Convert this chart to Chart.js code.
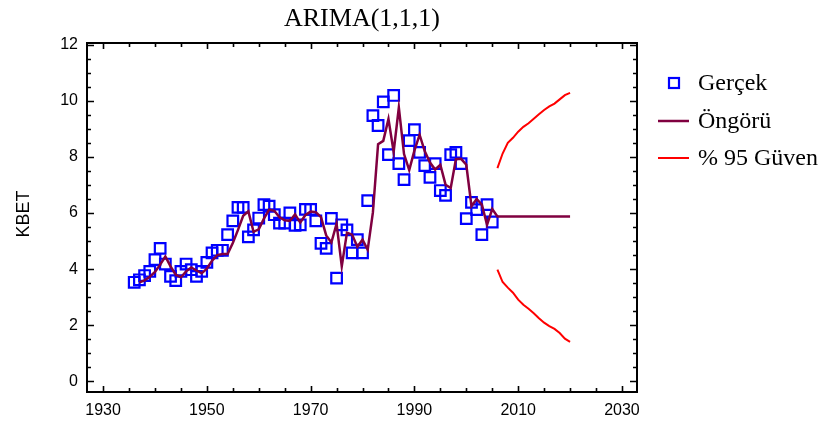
<!DOCTYPE html>
<html>
<head>
<meta charset="utf-8">
<script src="https://cdn.jsdelivr.net/npm/chart.js@4.4.0/dist/chart.umd.min.js"></script>
<style>
  body { margin: 0; background: #fff; }
  #wrap { width: 828px; height: 425px; }
</style>
</head>
<body>
<div id="wrap"><canvas id="arimaChart" width="828" height="425"></canvas></div>
<script>
const actualYears = [
  1936, 1937, 1938, 1939, 1940, 1941, 1942, 1943, 1944, 1945,
  1946, 1947, 1948, 1949, 1950, 1951, 1952, 1953, 1954, 1955,
  1956, 1957, 1958, 1959, 1960, 1961, 1962, 1963, 1964, 1965,
  1966, 1967, 1968, 1969, 1970, 1971, 1972, 1973, 1974, 1975,
  1976, 1977, 1978, 1979, 1980, 1981, 1982, 1983, 1984, 1985,
  1986, 1987, 1988, 1989, 1990, 1991, 1992, 1993, 1994, 1995,
  1996, 1997, 1998, 1999, 2000, 2001, 2002, 2003, 2004, 2005
];
const actualValues = [
  3.53, 3.62, 3.77, 3.92, 4.34, 4.74, 4.18, 3.74, 3.59, 3.92,
  4.18, 3.98, 3.74, 3.92, 4.24, 4.58, 4.67, 4.67, 5.23, 5.72,
  6.2, 6.2, 5.15, 5.4, 5.82, 6.3, 6.24, 5.94, 5.64, 5.64,
  6.0, 5.56, 5.58, 6.13, 6.13, 5.72, 4.92, 4.74, 5.81, 3.68,
  5.58, 5.4, 4.58, 5.05, 4.58, 6.44, 9.47, 9.12, 9.96, 8.08,
  10.19, 7.76, 7.19, 8.58, 8.97, 8.16, 7.69, 7.27, 7.76, 6.8,
  6.63, 8.08, 8.16, 7.76, 5.8, 6.38, 6.12, 5.23, 6.3, 5.68
];
// one-step fitted values, 1937-2005
const fittedValues = [
  3.53, 3.6, 3.73, 3.9, 4.16, 4.45, 4.1, 3.8, 3.71,
  3.92, 4.06, 3.95, 3.85, 4.02, 4.3, 4.5, 4.54, 4.54, 4.93,
  5.4, 5.9, 6.06, 5.33, 5.42, 5.8, 6.12, 6.08, 5.85, 5.74,
  5.72, 5.95, 5.66, 5.93, 6.05, 6.03, 5.85, 5.2, 4.95, 5.62,
  4.1, 5.3, 5.23, 4.8, 5.05, 4.69, 6.02, 8.45, 8.57, 9.35,
  8.18, 9.76, 8.1, 7.53, 8.22, 8.79, 8.2, 7.8, 7.55, 7.72,
  7.01, 6.89, 7.92, 7.93, 7.72, 6.24, 6.5, 6.3, 5.58, 6.14
];
const forecastYears = [2006, 2007, 2008, 2009, 2010, 2011, 2012, 2013, 2014, 2015, 2016, 2017, 2018, 2019, 2020];
const forecastValues = [5.88, 5.88, 5.88, 5.88, 5.88, 5.88, 5.88, 5.88, 5.88, 5.88, 5.88, 5.88, 5.88, 5.88, 5.88];
const upperValues = [7.6, 8.12, 8.5, 8.68, 8.9, 9.07, 9.2, 9.36, 9.52, 9.67, 9.8, 9.9, 10.05, 10.2, 10.28];
const lowerValues = [3.98, 3.54, 3.34, 3.16, 2.91, 2.73, 2.59, 2.43, 2.25, 2.09, 1.97, 1.87, 1.72, 1.52, 1.41];

const xTicks = [1930, 1950, 1970, 1990, 2010, 2030];
const yTicks = [0, 2, 4, 6, 8, 10, 12];
const legendLabels = ['Gerçek', 'Öngörü', '% 95 Güven'];

const toPts = (xs, ys) => xs.map((x, i) => ({ x: x, y: ys[i] }));
const fitYears = actualYears.slice(1).concat(forecastYears);
const fitValues = fittedValues.concat(forecastValues);

const BLUE = '#0000ff';
const MAROON = '#800040';
const RED = '#ff0000';

// Frame, inward ticks, title, axis name and legend
const framePlugin = {
  id: 'frame',
  afterDraw(chart) {
    const ctx = chart.ctx;
    const a = chart.chartArea;
    const xs = chart.scales.x, ys = chart.scales.y;
    ctx.save();
    ctx.strokeStyle = '#000';
    ctx.lineWidth = 2;
    ctx.strokeRect(a.left, a.top, a.right - a.left, a.bottom - a.top);

    ctx.lineWidth = 1.6;
    ctx.beginPath();
    for (let v = 1930; v <= 2030; v += 5) {
      const px = Math.round(xs.getPixelForValue(v)) + 0.5;
      const len = v % 20 === 10 ? 6 : 4;
      ctx.moveTo(px, a.bottom); ctx.lineTo(px, a.bottom - len);
      ctx.moveTo(px, a.top); ctx.lineTo(px, a.top + len);
    }
    for (let v = 0; v <= 12; v += 0.5) {
      const py = Math.round(ys.getPixelForValue(v)) + 0.5;
      const len = v % 2 === 0 ? 7 : 4;
      ctx.moveTo(a.left, py); ctx.lineTo(a.left + len, py);
      ctx.moveTo(a.right, py); ctx.lineTo(a.right - len, py);
    }
    ctx.stroke();

    // title
    ctx.fillStyle = '#000';
    ctx.textAlign = 'center';
    ctx.textBaseline = 'middle';
    ctx.font = '26px "Liberation Serif"';
    ctx.fillText('ARIMA(1,1,1)', (a.left + a.right) / 2, 19);

    // y axis name
    ctx.save();
    ctx.translate(24, 214);
    ctx.rotate(-Math.PI / 2);
    ctx.font = '18px "Liberation Sans"';
    ctx.fillText('KBET', 0, 0);
    ctx.restore();

    // legend
    ctx.textAlign = 'left';
    ctx.font = '24px "Liberation Serif"';
    const rows = [83, 121, 158];
    ctx.strokeStyle = BLUE;
    ctx.lineWidth = 2.2;
    ctx.strokeRect(669, rows[0] - 5, 10, 10);
    ctx.lineWidth = 2.5;
    ctx.strokeStyle = MAROON;
    ctx.beginPath(); ctx.moveTo(658, rows[1]); ctx.lineTo(689, rows[1]); ctx.stroke();
    ctx.lineWidth = 2;
    ctx.strokeStyle = RED;
    ctx.beginPath(); ctx.moveTo(658, rows[2]); ctx.lineTo(689, rows[2]); ctx.stroke();
    legendLabels.forEach((t, i) => ctx.fillText(t, 698, rows[i] + 1));
    ctx.restore();
  }
};

const tickFont = { family: '"Liberation Sans"', size: 16 };

new Chart(document.getElementById('arimaChart').getContext('2d'), {
  type: 'scatter',
  data: {
    datasets: [
      {
        label: legendLabels[0],
        data: toPts(actualYears, actualValues),
        pointStyle: 'rect',
        pointRadius: 7.5,
        borderColor: BLUE,
        borderWidth: 2.2,
        backgroundColor: 'rgba(0,0,0,0)',
        showLine: false,
        order: 2
      },
      {
        label: legendLabels[1],
        data: toPts(fitYears, fitValues),
        showLine: true,
        borderColor: MAROON,
        borderWidth: 2.5,
        pointRadius: 0,
        order: 1
      },
      {
        label: legendLabels[2],
        data: toPts(forecastYears, upperValues),
        showLine: true,
        borderColor: RED,
        borderWidth: 2,
        pointRadius: 0,
        order: 1
      },
      {
        label: legendLabels[2],
        data: toPts(forecastYears, lowerValues),
        showLine: true,
        borderColor: RED,
        borderWidth: 2,
        pointRadius: 0,
        order: 1
      }
    ]
  },
  options: {
    responsive: false,
    animation: false,
    layout: { padding: { top: 43, right: 191, left: 0, bottom: 0 } },
    plugins: {
      legend: { display: false },
      title: { display: false },
      tooltip: { enabled: false }
    },
    scales: {
      x: {
        type: 'linear',
        min: 1926.9,
        max: 2032.9,
        grid: { display: false, drawTicks: false },
        border: { display: false },
        afterBuildTicks: s => { s.ticks = xTicks.map(v => ({ value: v })); },
        afterFit: s => { s.height = 33; },
        ticks: { padding: 9, font: tickFont, color: '#000', maxRotation: 0, autoSkip: false, callback: v => String(v) }
      },
      y: {
        min: -0.38,
        max: 12.06,
        grid: { display: false, drawTicks: false },
        border: { display: false },
        afterBuildTicks: s => { s.ticks = yTicks.map(v => ({ value: v })); },
        afterFit: s => { s.width = 87; },
        ticks: { padding: 9, font: tickFont, color: '#000', autoSkip: false }
      }
    }
  },
  plugins: [framePlugin]
});
</script>
</body>
</html>
